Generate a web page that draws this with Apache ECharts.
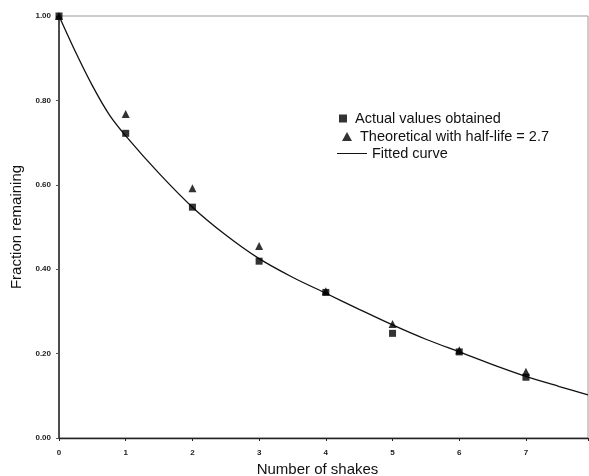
<!DOCTYPE html>
<html>
<head>
<meta charset="utf-8">
<script src="https://cdn.jsdelivr.net/npm/echarts@6/dist/echarts.min.js"></script>
<style>html,body{margin:0;padding:0;background:#fff;}#c{width:589px;height:476px;}</style>
</head>
<body>
<div id="c"></div>
<script>
var shakes = [0, 1, 2, 3, 4, 5, 6, 7];
var actualValues = [1.00, 0.722, 0.547, 0.419, 0.345, 0.248, 0.204, 0.144];
var theoreticalValues = [1.00, 0.768, 0.592, 0.455, 0.348, 0.270, 0.208, 0.157];
var curveX = [0, 0.25, 0.5, 0.75, 1.0, 1.5, 2.0, 2.5, 3.0, 3.5, 4.0, 4.5, 5.0, 5.5, 6.0, 6.5, 7.0, 7.5, 7.93];
var curveY = [1.0, 0.914, 0.835, 0.767, 0.716, 0.627, 0.547, 0.481, 0.425, 0.381, 0.343, 0.305, 0.268, 0.234, 0.204, 0.174, 0.146, 0.122, 0.102];
var yTicks = ['0.00', '0.20', '0.40', '0.60', '0.80', '1.00'];

function pairs(xs, ys) { return xs.map(function (x, i) { return [x, ys[i]]; }); }

var font = 'Liberation Sans, Arial, sans-serif';
var legendText = { fontFamily: font, fontSize: 14.5, color: '#111' };
var chart = echarts.init(document.getElementById('c'));
chart.setOption({
  animation: false,
  backgroundColor: '#fff',
  grid: { left: 59, right: 1, top: 16, bottom: 38, show: true, borderColor: '#9a9a9a', borderWidth: 1,
    containLabel: false, outerBoundsMode: 'none' },
  legend: [
    { data: [{ name: 'Actual values obtained', icon: 'rect' }], left: 339, top: 111, padding: 0, itemWidth: 8, itemHeight: 8,
      textStyle: Object.assign({ padding: [0, 0, 0, 3] }, legendText) },
    { data: [{ name: 'Theoretical with half-life = 2.7', icon: 'triangle' }], left: 342, top: 129, padding: 0, itemWidth: 10, itemHeight: 9,
      textStyle: Object.assign({ padding: [0, 0, 0, 3] }, legendText) },
    { data: [{ name: 'Fitted curve', icon: 'path://M0,0 L30,0 L30,1 L0,1 Z' }], left: 337, top: 146, padding: 0, itemWidth: 30, itemHeight: 1,
      textStyle: Object.assign({ padding: [0, 0, 0, 0] }, legendText) }
  ],
  xAxis: {
    type: 'value', min: 0, max: 7.93, interval: 1,
    name: 'Number of shakes', nameLocation: 'middle', nameGap: 24,
    nameTextStyle: { fontFamily: font, fontSize: 15, color: '#111', padding: [0, 12, 0, 0] },
    axisLine: { lineStyle: { color: '#222', width: 1.3 } },
    axisTick: { show: true, length: 3, lineStyle: { color: '#222' } },
    axisLabel: { fontFamily: font, fontSize: 8, fontWeight: 'bold', color: '#222', margin: 11,
      formatter: function (v) { return Math.abs(v - Math.round(v)) < 1e-6 ? String(Math.round(v)) : ''; } },
    splitLine: { show: false }
  },
  yAxis: {
    type: 'value', min: 0, max: 1, interval: 0.2,
    name: 'Fraction remaining', nameLocation: 'middle', nameGap: 28, nameRotate: 90,
    nameTextStyle: { fontFamily: font, fontSize: 15, color: '#111' },
    axisLine: { show: true, lineStyle: { color: '#222', width: 1.5 } },
    axisTick: { show: true, length: 3, lineStyle: { color: '#555' } },
    axisLabel: { fontFamily: font, fontSize: 8, fontWeight: 'bold', color: '#222', margin: 8,
      formatter: function (v) { return yTicks[Math.round(v / 0.2)]; } },
    splitLine: { show: false }
  },
  series: [
    { name: 'Fitted curve', type: 'line', data: pairs(curveX, curveY), smooth: 0.3, symbol: 'none',
      lineStyle: { color: '#111', width: 1.3 }, itemStyle: { color: '#111' }, z: 1 },
    { name: 'Theoretical with half-life = 2.7', type: 'scatter', data: pairs(shakes, theoreticalValues), symbol: 'triangle', symbolSize: 8,
      itemStyle: { color: '#000' }, z: 2 },
    { name: 'Actual values obtained', type: 'scatter', data: pairs(shakes, actualValues), symbol: 'rect', symbolSize: 7,
      itemStyle: { color: '#000' }, z: 3 }
  ]
});
</script>
</body>
</html>
